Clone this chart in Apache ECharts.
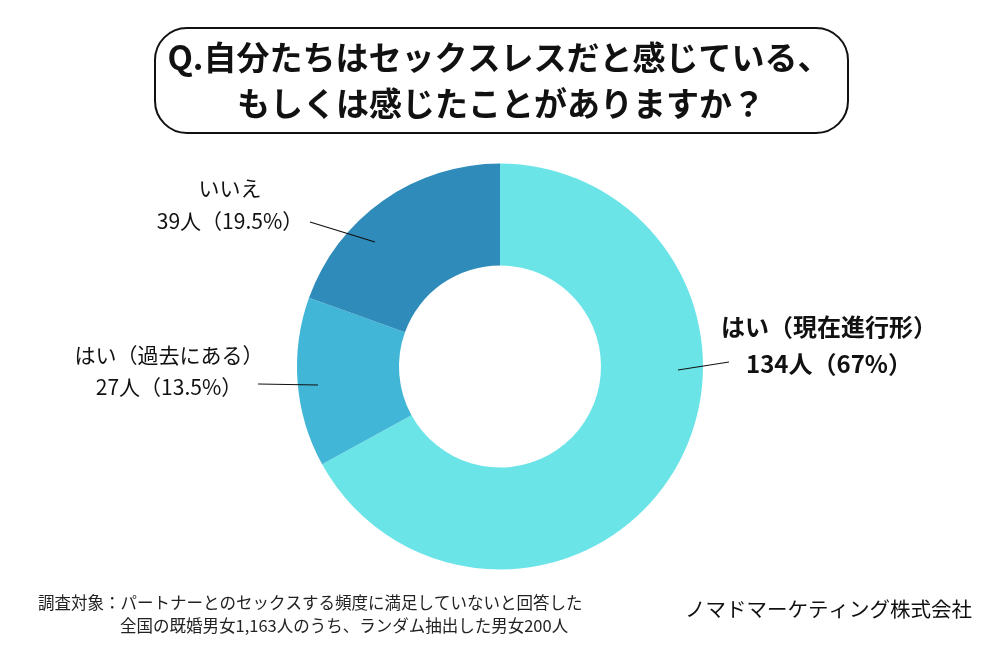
<!DOCTYPE html>
<html>
<head>
<meta charset="utf-8">
<script src="https://cdn.jsdelivr.net/npm/echarts@6/dist/echarts.min.js"></script>
<style>
html,body{margin:0;padding:0;background:#fff;}
#c{width:1000px;height:650px;}
</style>
</head>
<body>
<div id="c"></div>
<script>
const titleLines = ['Q.自分たちはセックスレスだと感じている、', 'もしくは感じたことがありますか？'];
const categories = ['はい（現在進行形）', 'はい（過去にある）', 'いいえ'];
const values = [134, 27, 39];
const percents = ['67', '13.5', '19.5'];
const colors = ['#6be4e8', '#42b6d6', '#2e8bba'];
const footNote1 = '調査対象：パートナーとのセックスする頻度に満足していないと回答した';
const footNote2 = '全国の既婚男女1,163人のうち、ランダム抽出した男女200人';
const company = 'ノマドマーケティング株式会社';

const FONT = '"Noto Sans CJK JP", "Noto Sans", sans-serif';

// label placement (anchor centre) and guide line points
const labelPlace = [
  { x: 829, y: 345, line: [[678, 370], [729, 362]] },
  { x: 169, y: 371, line: [[318, 385], [258, 384]] },
  { x: 230, y: 205, line: [[375, 242], [310, 222]] }
];

const labelStyles = [
  { fontSize: 24, fontWeight: 'bold', lineHeight: 37 },
  { fontSize: 21, fontWeight: 'normal', lineHeight: 32 },
  { fontSize: 21, fontWeight: 'normal', lineHeight: 33 }
];

const data = categories.map((name, i) => ({
  name: name,
  value: values[i],
  itemStyle: { color: colors[i] },
  label: Object.assign({
    formatter: name + '\n' + values[i] + '人（' + percents[i] + '%）'
  }, labelStyles[i])
}));

const guideLines = labelPlace.map(p => ({
  type: 'polyline',
  shape: { points: p.line },
  style: { stroke: '#111111', lineWidth: 1.2, fill: null },
  z: 20,
  silent: true
}));

const chart = echarts.init(document.getElementById('c'), null, { renderer: 'canvas' });
chart.setOption({
  animation: false,
  backgroundColor: '#ffffff',
  graphic: [
    {
      type: 'rect',
      shape: { x: 155, y: 28, width: 693, height: 105, r: 32 },
      style: { fill: 'none', stroke: '#111111', lineWidth: 2 },
      z: 10
    },
    {
      type: 'text',
      x: 499, y: 57,
      style: {
        text: titleLines[0], font: 'bold 33px ' + FONT, fill: '#111111',
        textAlign: 'center', textVerticalAlign: 'middle'
      }
    },
    {
      type: 'text',
      x: 501, y: 103,
      style: {
        text: titleLines[1], font: 'bold 33px ' + FONT, fill: '#111111',
        textAlign: 'center', textVerticalAlign: 'middle'
      }
    },
    {
      type: 'text',
      left: 38, top: 594,
      style: { text: footNote1, font: '16.5px ' + FONT, fill: '#222222' }
    },
    {
      type: 'text',
      left: 120, top: 617,
      style: { text: footNote2, font: '16.5px ' + FONT, fill: '#222222' }
    },
    {
      type: 'text',
      left: 685, top: 599,
      style: { text: company, font: '20.5px ' + FONT, fill: '#111111' }
    }
  ].concat(guideLines),
  series: [{
    type: 'pie',
    center: [500, 366.5],
    radius: [101, 203],
    startAngle: 90,
    clockwise: true,
    silent: true,
    emphasis: { disabled: true },
    label: {
      show: true,
      position: 'outside',
      color: '#111111',
      fontFamily: FONT,
      align: 'center'
    },
    labelLine: { show: false },
    labelLayout: function (params) {
      const p = labelPlace[params.dataIndex];
      return { x: p.x, y: p.y, align: 'center', verticalAlign: 'middle' };
    },
    data: data
  }]
});
</script>
</body>
</html>
